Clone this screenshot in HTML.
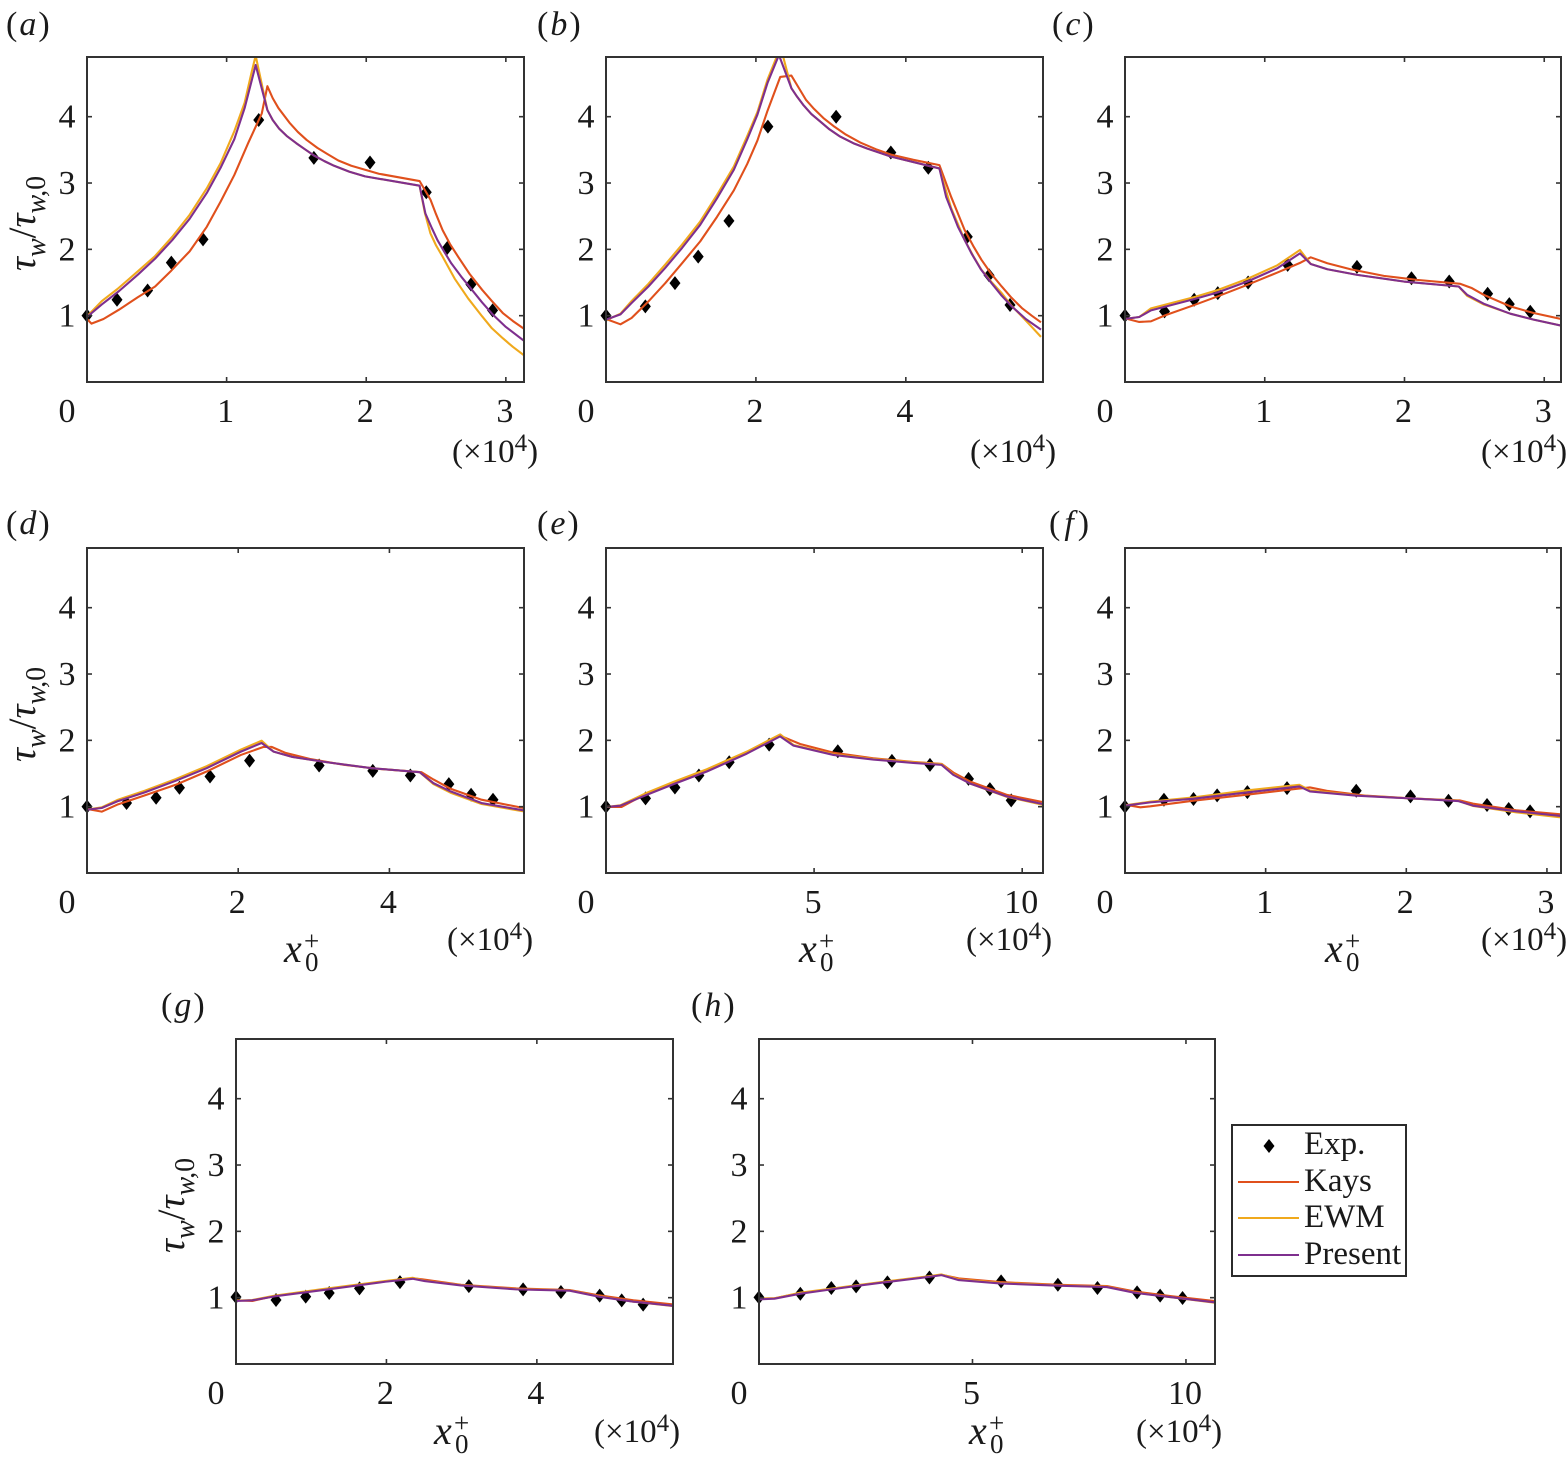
<!DOCTYPE html>
<html lang="en">
<head>
<meta charset="utf-8">
<title>Wall shear stress ratio panels</title>
<style>
html,body{margin:0;padding:0;background:#fff;}
svg{display:block;}
text{font-family:"Liberation Serif",serif;fill:#1a1a1a;font-size:33px;}
.it{font-style:italic;}
.tick{font-size:34px;}
.letter{font-size:34px;}
.tau{font-size:39px;font-style:italic;}
.slash{font-size:39px;}
.sub{font-size:28px;}
.x0{font-size:40px;font-style:italic;}
.x0s{font-size:27px;}
.sup4{font-size:25px;}
</style>
</head>
<body>
<svg id="figure" xmlns="http://www.w3.org/2000/svg" width="1568" height="1467" viewBox="0 0 1568 1467">
<rect x="0" y="0" width="1568" height="1467" fill="#fff"/>
<g id="marks"></g>

<g>
<text class="letter" x="6" y="35" letter-spacing="2">(<tspan class="it">a</tspan>)</text>
<text class="letter" x="537" y="35" letter-spacing="2">(<tspan class="it">b</tspan>)</text>
<text class="letter" x="1052" y="35" letter-spacing="2">(<tspan class="it">c</tspan>)</text>
<text class="letter" x="6" y="534" letter-spacing="2">(<tspan class="it">d</tspan>)</text>
<text class="letter" x="537" y="534" letter-spacing="2">(<tspan class="it">e</tspan>)</text>
<text class="letter" x="1049" y="534" letter-spacing="4">(<tspan class="it">f</tspan>)</text>
<text class="letter" x="161" y="1016" letter-spacing="2">(<tspan class="it">g</tspan>)</text>
<text class="letter" x="691" y="1016" letter-spacing="2">(<tspan class="it">h</tspan>)</text>
</g>

<g>
<text transform="translate(35,271) rotate(-90)"><tspan class="tau">τ</tspan><tspan class="it sub" dy="10">w</tspan><tspan class="slash" dy="-10">/</tspan><tspan class="tau">τ</tspan><tspan class="it sub" dy="10">w,</tspan><tspan class="sub">0</tspan></text>
<text transform="translate(35,762) rotate(-90)"><tspan class="tau">τ</tspan><tspan class="it sub" dy="10">w</tspan><tspan class="slash" dy="-10">/</tspan><tspan class="tau">τ</tspan><tspan class="it sub" dy="10">w,</tspan><tspan class="sub">0</tspan></text>
<text transform="translate(184,1253) rotate(-90)"><tspan class="tau">τ</tspan><tspan class="it sub" dy="10">w</tspan><tspan class="slash" dy="-10">/</tspan><tspan class="tau">τ</tspan><tspan class="it sub" dy="10">w,</tspan><tspan class="sub">0</tspan></text>
</g>

<g>
<g><text x="284" y="962" class="x0">x</text><text x="304" y="950" class="x0s">+</text><text x="305" y="971" class="x0s">0</text></g>
<g><text x="799" y="962" class="x0">x</text><text x="819" y="950" class="x0s">+</text><text x="820" y="971" class="x0s">0</text></g>
<g><text x="1325" y="962" class="x0">x</text><text x="1345" y="950" class="x0s">+</text><text x="1346" y="971" class="x0s">0</text></g>
<g><text x="434" y="1444" class="x0">x</text><text x="454" y="1432" class="x0s">+</text><text x="455" y="1453" class="x0s">0</text></g>
<g><text x="969" y="1444" class="x0">x</text><text x="989" y="1432" class="x0s">+</text><text x="990" y="1453" class="x0s">0</text></g>
</g>

<g>
<text x="452" y="462">(×10<tspan class="sup4" dy="-11">4</tspan><tspan dy="11">)</tspan></text>
<text x="970" y="462">(×10<tspan class="sup4" dy="-11">4</tspan><tspan dy="11">)</tspan></text>
<text x="1481" y="462">(×10<tspan class="sup4" dy="-11">4</tspan><tspan dy="11">)</tspan></text>
<text x="447" y="950">(×10<tspan class="sup4" dy="-11">4</tspan><tspan dy="11">)</tspan></text>
<text x="966" y="950">(×10<tspan class="sup4" dy="-11">4</tspan><tspan dy="11">)</tspan></text>
<text x="1481" y="950">(×10<tspan class="sup4" dy="-11">4</tspan><tspan dy="11">)</tspan></text>
<text x="594" y="1442">(×10<tspan class="sup4" dy="-11">4</tspan><tspan dy="11">)</tspan></text>
<text x="1136" y="1442">(×10<tspan class="sup4" dy="-11">4</tspan><tspan dy="11">)</tspan></text>
</g>

<g>
<rect x="1232" y="1125" width="174" height="151" fill="#fff" stroke="#2b2b2b" stroke-width="2"/>
<g>
<polygon points="1269,1139 1274.5,1146 1269,1153 1263.5,1146" fill="#000"/>
<text x="1304" y="1154">Exp.</text>
</g>
<g>
<line x1="1238" y1="1182" x2="1299" y2="1182" stroke="#e0501c" stroke-width="2"/>
<text x="1304" y="1191">Kays</text>
</g>
<g>
<line x1="1238" y1="1218" x2="1299" y2="1218" stroke="#f0a91c" stroke-width="2"/>
<text x="1304" y="1227">EWM</text>
</g>
<g>
<line x1="1238" y1="1255" x2="1299" y2="1255" stroke="#7e2f8e" stroke-width="2"/>
<text x="1304" y="1264">Present</text>
</g>
</g>
</svg>

<script>
const yTicks = [1, 2, 3, 4];
const yTickLabels = ['1', '2', '3', '4'];
const yMax = 4.9;

const xTicks3 = [0, 1, 2, 3];
const xTickLabels3 = ['0', '1', '2', '3'];
const xTicks6 = [0, 2, 4];
const xTickLabels6 = ['0', '2', '4'];
const xTicks10 = [0, 5, 10];
const xTickLabels10 = ['0', '5', '10'];

/* panel a */
const aExpX = [0, .215, .434, .604, .831, 1.23, 1.625, 2.027, 2.43, 2.58, 2.75, 2.905];
const aExpY = [1, 1.24, 1.38, 1.80, 2.15, 3.95, 3.38, 3.31, 2.86, 2.02, 1.47, 1.08];
const aKaysX = [0, .032, .118, .229, .365, .488, .604, .735, .858, .957, 1.055, 1.154, 1.252, 1.292, 1.33, 1.371, 1.45, 1.51, 1.573, 1.65, 1.72, 1.8, 1.893, 2.09, 2.382, 2.46, 2.5, 2.547, 2.6, 2.658, 2.74, 2.83, 2.9, 2.978, 3.05, 3.131];
const aKaysY = [.95, .88, .95, 1.09, 1.28, 1.44, 1.68, 1.97, 2.34, 2.72, 3.12, 3.60, 4.05, 4.46, 4.28, 4.13, 3.91, 3.77, 3.65, 3.53, 3.44, 3.34, 3.26, 3.14, 3.03, 2.75, 2.53, 2.29, 2.08, 1.89, 1.63, 1.39, 1.22, 1.04, .92, .80];
const aEwmX = [0, .106, .217, .365, .488, .611, .735, .858, .957, 1.055, 1.129, 1.178, 1.208, 1.292, 1.33, 1.376, 1.43, 1.499, 1.56, 1.622, 1.7, 1.77, 1.88, 1.992, 2.382, 2.42, 2.46, 2.5, 2.547, 2.633, 2.73, 2.83, 2.9, 2.978, 3.05, 3.131];
const aEwmY = [.99, 1.22, 1.40, 1.67, 1.90, 2.19, 2.52, 2.92, 3.30, 3.78, 4.21, 4.66, 4.92, 4.10, 3.95, 3.82, 3.71, 3.60, 3.51, 3.42, 3.33, 3.26, 3.17, 3.10, 2.96, 2.55, 2.24, 2.06, 1.89, 1.56, 1.26, .99, .81, .66, .53, .40];
const aPresentX = [0, .106, .229, .365, .488, .611, .735, .858, .957, 1.055, 1.129, 1.178, 1.208, 1.292, 1.33, 1.376, 1.43, 1.499, 1.56, 1.622, 1.7, 1.77, 1.88, 1.992, 2.382, 2.424, 2.47, 2.51, 2.56, 2.609, 2.68, 2.757, 2.83, 2.905, 3.0, 3.131];
const aPresentY = [.98, 1.17, 1.37, 1.62, 1.86, 2.14, 2.46, 2.85, 3.23, 3.66, 4.13, 4.53, 4.78, 4.10, 3.95, 3.82, 3.71, 3.60, 3.51, 3.42, 3.33, 3.26, 3.17, 3.10, 2.96, 2.54, 2.32, 2.14, 1.96, 1.79, 1.59, 1.39, 1.20, 1.02, .83, .62];

/* panel b */
const bExpX = [0, .525, .92, 1.23, 1.64, 2.16, 3.07, 3.80, 4.30, 4.82, 5.11, 5.39];
const bExpY = [1, 1.14, 1.49, 1.89, 2.43, 3.85, 4.0, 3.46, 3.23, 2.19, 1.61, 1.16];
const bKaysX = [0, .193, .341, .566, .79, 1.014, 1.257, 1.481, 1.706, 1.885, 2.02, 2.155, 2.325, 2.473, 2.585, 2.67, 2.765, 2.9, 3.034, 3.2, 3.393, 3.6, 3.797, 4.1, 4.448, 4.605, 4.785, 4.9, 5.01, 5.14, 5.279, 5.41, 5.548, 5.68, 5.803];
const bKaysY = [.95, .87, .965, 1.215, 1.49, 1.79, 2.12, 2.49, 2.89, 3.29, 3.64, 4.09, 4.60, 4.62, 4.41, 4.25, 4.13, 3.98, 3.86, 3.73, 3.61, 3.51, 3.43, 3.35, 3.27, 2.79, 2.29, 2.05, 1.84, 1.63, 1.44, 1.27, 1.115, 1.0, .90];
const bEwmX = [0, .193, .341, .566, .79, 1.014, 1.257, 1.481, 1.706, 1.885, 2.02, 2.155, 2.33, 2.473, 2.55, 2.63, 2.74, 2.855, 2.98, 3.124, 3.3, 3.483, 3.797, 4.448, 4.605, 4.785, 4.9, 5.01, 5.14, 5.279, 5.41, 5.548, 5.68, 5.803];
const bEwmY = [.93, 1.03, 1.22, 1.48, 1.77, 2.07, 2.42, 2.82, 3.25, 3.71, 4.07, 4.56, 5.05, 4.43, 4.30, 4.18, 4.04, 3.93, 3.81, 3.70, 3.60, 3.52, 3.40, 3.22, 2.62, 2.14, 1.90, 1.69, 1.51, 1.34, 1.15, .99, .83, .68];
const bPresentX = [0, .193, .341, .566, .79, 1.014, 1.257, 1.481, 1.706, 1.885, 2.02, 2.155, 2.307, 2.473, 2.55, 2.63, 2.74, 2.855, 2.98, 3.124, 3.3, 3.483, 3.797, 4.448, 4.538, 4.695, 4.875, 5.0, 5.144, 5.28, 5.413, 5.6, 5.803];
const bPresentY = [.94, 1.02, 1.19, 1.44, 1.72, 2.02, 2.37, 2.77, 3.20, 3.66, 4.03, 4.51, 4.93, 4.43, 4.30, 4.18, 4.04, 3.93, 3.81, 3.70, 3.60, 3.52, 3.40, 3.22, 2.79, 2.34, 1.94, 1.70, 1.49, 1.30, 1.14, .95, .79];

/* panel c */
const cExpX = [0, .283, .495, .664, .881, 1.164, 1.66, 2.05, 2.32, 2.595, 2.75, 2.90];
const cExpY = [1, 1.065, 1.24, 1.34, 1.50, 1.765, 1.735, 1.565, 1.515, 1.33, 1.175, 1.06];
const cKaysX = [0, .102, .186, .281, .495, .662, .876, 1.09, 1.257, 1.329, 1.448, 1.614, 1.852, 2.09, 2.4, 2.483, 2.567, 2.757, 2.924, 3.12];
const cKaysY = [.96, .905, .915, 1, 1.16, 1.29, 1.465, 1.65, 1.80, 1.88, 1.79, 1.70, 1.60, 1.54, 1.48, 1.415, 1.315, 1.14, 1.04, .95];
const cEwmX = [0, .102, .186, .495, .662, .876, 1.09, 1.252, 1.329, 1.448, 1.662, 1.995, 2.388, 2.448, 2.567, 2.757, 2.924, 3.12];
const cEwmY = [.95, .98, 1.11, 1.28, 1.385, 1.555, 1.76, 1.99, 1.78, 1.70, 1.615, 1.515, 1.44, 1.30, 1.17, 1.03, .94, .85];
const cPresentX = [0, .102, .186, .495, .662, .876, 1.09, 1.252, 1.329, 1.448, 1.662, 1.995, 2.388, 2.448, 2.567, 2.757, 2.924, 3.12];
const cPresentY = [.95, .98, 1.08, 1.25, 1.35, 1.515, 1.715, 1.94, 1.78, 1.70, 1.615, 1.515, 1.44, 1.315, 1.18, 1.03, .94, .85];

/* panel d */
const dExpX = [0, .523, .914, 1.223, 1.627, 2.15, 3.07, 3.78, 4.277, 4.786, 5.08, 5.37];
const dExpY = [1, 1.055, 1.135, 1.285, 1.455, 1.695, 1.62, 1.54, 1.47, 1.34, 1.18, 1.105];
const dKaysX = [0, .195, .4, .764, 1.173, 1.582, 2.036, 2.332, 2.445, 2.627, 2.945, 3.4, 3.855, 4.423, 4.582, 4.809, 5.218, 5.773];
const dKaysY = [.965, .925, 1.03, 1.17, 1.33, 1.53, 1.78, 1.90, 1.90, 1.81, 1.72, 1.63, 1.57, 1.52, 1.41, 1.27, 1.105, .98];
const dEwmX = [0, .195, .4, .764, 1.173, 1.582, 2.036, 2.309, 2.468, 2.718, 3.173, 3.764, 4.4, 4.582, 4.809, 5.218, 5.773];
const dEwmY = [.955, .99, 1.10, 1.24, 1.415, 1.61, 1.86, 1.995, 1.83, 1.75, 1.67, 1.58, 1.52, 1.34, 1.21, 1.04, .93];
const dPresentX = [0, .195, .4, .764, 1.173, 1.582, 2.036, 2.309, 2.468, 2.718, 3.173, 3.764, 4.4, 4.582, 4.809, 5.218, 5.773];
const dPresentY = [.955, .98, 1.08, 1.215, 1.39, 1.58, 1.83, 1.96, 1.83, 1.75, 1.67, 1.58, 1.52, 1.355, 1.23, 1.055, .945];

/* panel e */
const eExpX = [0, .95, 1.656, 2.232, 2.96, 3.92, 5.57, 6.87, 7.784, 8.71, 9.224, 9.736];
const eExpY = [1, 1.125, 1.29, 1.47, 1.67, 1.935, 1.835, 1.69, 1.63, 1.42, 1.265, 1.095];
const eKaysX = [0, .368, .984, 1.624, 2.424, 3.384, 4.184, 4.664, 5.464, 6.424, 7.384, 8.064, 8.344, 8.744, 9.624, 10.488];
const eKaysY = [.995, .995, 1.2, 1.36, 1.55, 1.82, 2.07, 1.945, 1.815, 1.73, 1.675, 1.645, 1.515, 1.38, 1.18, 1.07];
const eEwmX = [0, .344, .984, 1.624, 2.424, 3.384, 4.184, 4.504, 5.464, 6.424, 7.384, 8.064, 8.344, 8.744, 9.624, 10.488];
const eEwmY = [.995, 1.02, 1.21, 1.375, 1.565, 1.83, 2.09, 1.93, 1.79, 1.72, 1.67, 1.64, 1.49, 1.35, 1.15, 1.03];
const ePresentX = [0, .344, .984, 1.624, 2.424, 3.384, 4.184, 4.504, 5.464, 6.424, 7.384, 8.064, 8.344, 8.744, 9.624, 10.488];
const ePresentY = [.995, 1.015, 1.18, 1.34, 1.53, 1.80, 2.06, 1.92, 1.78, 1.71, 1.66, 1.63, 1.48, 1.35, 1.155, 1.04];

/* panel f */
const fExpX = [0, .277, .487, .655, .87, 1.152, 1.644, 2.03, 2.30, 2.574, 2.728, 2.88];
const fExpY = [1, 1.105, 1.115, 1.17, 1.22, 1.28, 1.24, 1.155, 1.09, 1.025, .965, .93];
const fKaysX = [0, .109, .18, .487, .866, 1.22, 1.315, 1.434, 1.717, 2.072, 2.38, 2.475, 2.782, 3.097];
const fKaysY = [1.03, .99, 1.005, 1.09, 1.18, 1.27, 1.29, 1.24, 1.165, 1.12, 1.095, 1.045, .945, .885];
const fEwmX = [0, .18, .487, .866, 1.24, 1.315, 1.647, 2.072, 2.368, 2.475, 2.782, 3.097];
const fEwmY = [1.02, 1.075, 1.14, 1.245, 1.33, 1.245, 1.17, 1.12, 1.09, 1.01, .915, .84];
const fPresentX = [0, .18, .487, .866, 1.24, 1.315, 1.647, 2.072, 2.368, 2.475, 2.782, 3.097];
const fPresentY = [1.015, 1.065, 1.12, 1.215, 1.305, 1.23, 1.165, 1.12, 1.085, 1.015, .93, .86];

/* panel g */
const gExpX = [0, .532, .927, 1.239, 1.642, 2.18, 3.096, 3.817, 4.32, 4.835, 5.128, 5.413];
const gExpY = [1.01, .965, 1.015, 1.07, 1.14, 1.235, 1.175, 1.125, 1.085, 1.03, .96, .895];
const gKaysX = [0, .216, .514, 1.156, 1.982, 2.349, 2.486, 2.991, 3.725, 4.436, 4.826, 5.284, 5.835];
const gKaysY = [.96, .95, 1.025, 1.125, 1.245, 1.295, 1.275, 1.195, 1.14, 1.115, 1.035, .96, .895];
const gEwmX = [0, .216, .514, 1.156, 1.982, 2.349, 2.509, 2.991, 3.725, 4.436, 4.826, 5.284, 5.835];
const gEwmY = [.955, .965, 1.03, 1.13, 1.25, 1.30, 1.255, 1.19, 1.13, 1.11, 1.02, .94, .87];
const gPresentX = [0, .216, .514, 1.156, 1.982, 2.349, 2.509, 2.991, 3.725, 4.436, 4.826, 5.284, 5.835];
const gPresentY = [.95, .96, 1.02, 1.115, 1.24, 1.285, 1.25, 1.185, 1.125, 1.105, 1.015, .94, .875];

/* panel h */
const hExpX = [0, .968, 1.694, 2.274, 3.008, 3.992, 5.67, 7.0, 7.927, 8.855, 9.395, 9.92];
const hExpY = [1.005, 1.06, 1.145, 1.17, 1.23, 1.305, 1.245, 1.195, 1.145, 1.08, 1.03, .995];
const hKaysX = [0, .363, .968, 1.694, 2.258, 2.984, 3.992, 4.274, 4.677, 5.645, 7.0, 8.145, 8.79, 9.677, 10.67];
const hKaysY = [.985, .99, 1.07, 1.13, 1.18, 1.24, 1.32, 1.345, 1.29, 1.235, 1.195, 1.175, 1.095, 1.02, .95];
const hEwmX = [0, .363, .968, 1.694, 2.258, 2.984, 3.992, 4.274, 4.677, 5.645, 7.0, 8.145, 8.79, 9.677, 10.67];
const hEwmY = [.985, .99, 1.075, 1.135, 1.185, 1.245, 1.325, 1.35, 1.275, 1.225, 1.185, 1.165, 1.08, 1.005, .925];
const hPresentX = [0, .363, .968, 1.694, 2.258, 2.984, 3.992, 4.274, 4.677, 5.645, 7.0, 8.145, 8.79, 9.677, 10.67];
const hPresentY = [.975, .985, 1.06, 1.125, 1.175, 1.235, 1.315, 1.34, 1.265, 1.215, 1.18, 1.16, 1.075, 1.005, .93];

const panels = [
  {id:'a', left:87, right:524, top:57, bottom:382, xMax:3.13, xT:xTicks3, xL:xTickLabels3, ex:aExpX, ey:aExpY, kx:aKaysX, ky:aKaysY, wx:aEwmX, wy:aEwmY, px:aPresentX, py:aPresentY},
  {id:'b', left:606, right:1043, top:57, bottom:382, xMax:5.83, xT:xTicks6, xL:xTickLabels6, ex:bExpX, ey:bExpY, kx:bKaysX, ky:bKaysY, wx:bEwmX, wy:bEwmY, px:bPresentX, py:bPresentY},
  {id:'c', left:1125, right:1561, top:57, bottom:382, xMax:3.12, xT:xTicks3, xL:xTickLabels3, ex:cExpX, ey:cExpY, kx:cKaysX, ky:cKaysY, wx:cEwmX, wy:cEwmY, px:cPresentX, py:cPresentY},
  {id:'d', left:87, right:524, top:548, bottom:873, xMax:5.78, xT:xTicks6, xL:xTickLabels6, ex:dExpX, ey:dExpY, kx:dKaysX, ky:dKaysY, wx:dEwmX, wy:dEwmY, px:dPresentX, py:dPresentY},
  {id:'e', left:606, right:1043, top:548, bottom:873, xMax:10.5, xT:xTicks10, xL:xTickLabels10, ex:eExpX, ey:eExpY, kx:eKaysX, ky:eKaysY, wx:eEwmX, wy:eEwmY, px:ePresentX, py:ePresentY},
  {id:'f', left:1125, right:1561, top:548, bottom:873, xMax:3.1, xT:xTicks3, xL:xTickLabels3, ex:fExpX, ey:fExpY, kx:fKaysX, ky:fKaysY, wx:fEwmX, wy:fEwmY, px:fPresentX, py:fPresentY},
  {id:'g', left:236, right:673, top:1039, bottom:1364, xMax:5.81, xT:xTicks6, xL:xTickLabels6, ex:gExpX, ey:gExpY, kx:gKaysX, ky:gKaysY, wx:gEwmX, wy:gEwmY, px:gPresentX, py:gPresentY},
  {id:'h', left:759, right:1215, top:1039, bottom:1364, xMax:10.68, xT:xTicks10, xL:xTickLabels10, ex:hExpX, ey:hExpY, kx:hKaysX, ky:hKaysY, wx:hEwmX, wy:hEwmY, px:hPresentX, py:hPresentY}
];

const SVGNS = 'http://www.w3.org/2000/svg';
function make(tag, attrs, parent) {
  const el = document.createElementNS(SVGNS, tag);
  for (const k in attrs) el.setAttribute(k, attrs[k]);
  parent.appendChild(el);
  return el;
}
function xScale(p, v) { return p.left + (v / p.xMax) * (p.right - p.left); }
function yScale(p, v) { return p.bottom - (v / yMax) * (p.bottom - p.top); }
function linePath(p, xs, ys) {
  return xs.map(function (v, i) {
    return (i ? 'L' : 'M') + xScale(p, v).toFixed(2) + ' ' + yScale(p, ys[i]).toFixed(2);
  }).join(' ');
}

const root = document.getElementById('marks');
const defs = make('defs', {}, root);

panels.forEach(function (p) {
  const group = make('g', {}, root);
  
  

  const clip = make('clipPath', {id: 'clip-' + p.id}, defs);
  make('rect', {x: p.left, y: p.top, width: p.right - p.left, height: p.bottom - p.top}, clip);

  /* experimental diamonds */
  p.ex.forEach(function (v, i) {
    const cx = xScale(p, v), cy = yScale(p, p.ey[i]);
    const dot = make('polygon', {
      points: cx + ',' + (cy - 7) + ' ' + (cx + 5.5) + ',' + cy + ' ' + cx + ',' + (cy + 7) + ' ' + (cx - 5.5) + ',' + cy,
      fill: '#000'
    }, group);
    
    
  });

  /* model curves */
  const kays = make('path', {d: linePath(p, p.kx, p.ky), fill: 'none', stroke: '#e0501c', 'stroke-width': 2.1, 'stroke-linejoin': 'round', 'clip-path': 'url(#clip-' + p.id + ')'}, group);
  
  

  const ewm = make('path', {d: linePath(p, p.wx, p.wy), fill: 'none', stroke: '#f0a91c', 'stroke-width': 2.1, 'stroke-linejoin': 'round', 'clip-path': 'url(#clip-' + p.id + ')'}, group);
  
  

  const present = make('path', {d: linePath(p, p.px, p.py), fill: 'none', stroke: '#7e2f8e', 'stroke-width': 2.1, 'stroke-linejoin': 'round', 'clip-path': 'url(#clip-' + p.id + ')'}, group);
  
  

  /* frame */
  const frame = make('rect', {x: p.left, y: p.top, width: p.right - p.left, height: p.bottom - p.top, fill: 'none', stroke: '#333', 'stroke-width': 2}, group);
  
  

  /* x ticks and labels */
  p.xT.forEach(function (v, i) {
    const tx = xScale(p, v);
    const tb = make('line', {x1: tx, y1: p.bottom, x2: tx, y2: p.bottom - 5, stroke: '#333', 'stroke-width': 1.6}, group);
    
    
    const tt = make('line', {x1: tx, y1: p.top, x2: tx, y2: p.top + 5, stroke: '#333', 'stroke-width': 1.6}, group);
    
    
    const lab = make('text', {x: v === 0 ? p.left - 20 : tx - 1, y: p.bottom + 40, 'text-anchor': 'middle', 'class': 'tick'}, group);
    lab.textContent = p.xL[i];
    
    
  });

  /* y ticks and labels */
  yTicks.forEach(function (v, i) {
    const ty = yScale(p, v);
    const tl = make('line', {x1: p.left, y1: ty, x2: p.left + 5, y2: ty, stroke: '#333', 'stroke-width': 1.6}, group);
    
    
    const tr = make('line', {x1: p.right, y1: ty, x2: p.right - 5, y2: ty, stroke: '#333', 'stroke-width': 1.6}, group);
    
    
    const lab = make('text', {x: p.left - 20, y: ty + 11, 'text-anchor': 'middle', 'class': 'tick'}, group);
    lab.textContent = yTickLabels[i];
    
    
  });
});
</script>
</body>
</html>
